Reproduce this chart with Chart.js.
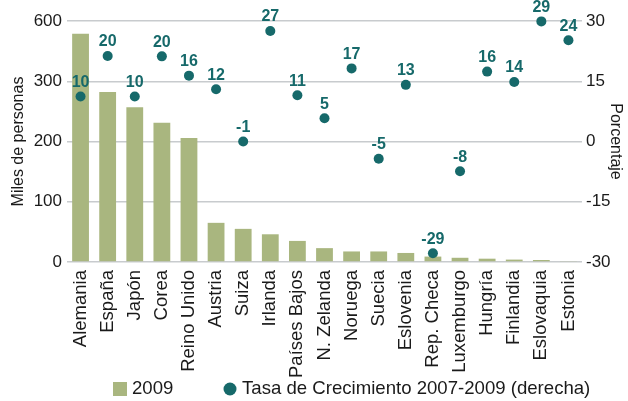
<!DOCTYPE html>
<html>
<head>
<meta charset="utf-8">
<script src="https://cdn.jsdelivr.net/npm/chart.js@4"></script>
<style>
    html, body { margin: 0; padding: 0; background: #fff; overflow: hidden; }
    #wrap { width: 628px; height: 401px; position: relative; }
</style>
</head>
<body>
<div id="wrap"><canvas id="chart"></canvas></div>
<script>
// --- Datos ---
const paises = ['Alemania', 'España', 'Japón', 'Corea', 'Reino Unido', 'Austria', 'Suiza', 'Irlanda',
    'Países Bajos', 'N. Zelanda', 'Noruega', 'Suecia', 'Eslovenia', 'Rep. Checa', 'Luxemburgo',
    'Hungría', 'Finlandia', 'Eslovaquia', 'Estonia'];
const miles2009 = [537, 282, 257, 231, 206, 65, 55, 46, 35, 23, 17.5, 17.5, 15, 9, 7, 5.5, 4, 3.3, 1];
const tasaCrecimiento = [11.2, 21.3, 11.2, 21.2, 16.4, 13, 0, 27.5, 11.5, 5.8, 18.2, -4.3, 14.1, -27.8, -7.4, 17.4, 14.8, 29.9, 25.2];
const etiquetasTasa = ['10', '20', '10', '20', '16', '12', '-1', '27', '11', '5', '17', '-5', '13', '-29', '-8', '16', '14', '29', '24'];
const ticksIzq = [0, 100, 200, 300, 600];

const VERDE = '#a9b67f';
const TEAL = '#16696a';
const TEXTO = '#1a1a1a';
const FUENTE = "'Liberation Sans', Arial, sans-serif";

// Escala izquierda quebrada: 0-300 lineal, luego 300-600 en un solo tramo
class EscalaQuebrada extends Chart.LinearScale {
    buildTicks() {
        return ticksIzq.map(v => ({ value: v }));
    }
    _tramo(v) {
        return v <= 300 ? v / 100 : 3 + (v - 300) / 300;
    }
    getPixelForValue(v) {
        if (v === null || v === undefined) return NaN;
        return this.getPixelForDecimal(this._tramo(v) / 4);
    }
    getValueForPixel(p) {
        const t = this.getDecimalForPixel(p) * 4;
        return t <= 3 ? t * 100 : 300 + (t - 3) * 300;
    }
}
EscalaQuebrada.id = 'quebrada';
EscalaQuebrada.defaults = {};
Chart.register(EscalaQuebrada);

// Etiquetas sobre los puntos
const etiquetasPlugin = {
    id: 'etiquetasTasa',
    afterDatasetsDraw(chart) {
        const meta = chart.getDatasetMeta(1);
        const ctx = chart.ctx;
        ctx.save();
        ctx.font = 'bold 16px ' + FUENTE;
        ctx.fillStyle = TEAL;
        ctx.textAlign = 'center';
        ctx.textBaseline = 'bottom';
        meta.data.forEach((pt, i) => {
            ctx.fillText(etiquetasTasa[i], pt.x, pt.y - 6);
        });
        ctx.restore();
    }
};

// Leyenda abajo (dibujada a mano para poder separar los elementos)
const leyendaPlugin = {
    id: 'leyendaAbajo',
    afterDraw(chart) {
        const ctx = chart.ctx;
        const y = 389;
        const items = [
            { x: 113, forma: 'rect', ds: chart.data.datasets[0] },
            { x: 223, forma: 'circle', ds: chart.data.datasets[1] }
        ];
        ctx.save();
        ctx.font = '18.6px ' + FUENTE;
        ctx.textBaseline = 'middle';
        ctx.textAlign = 'left';
        items.forEach(it => {
            ctx.fillStyle = it.ds.backgroundColor;
            if (it.forma === 'rect') {
                ctx.fillRect(it.x, y - 7, 14, 14);
            } else {
                ctx.beginPath();
                ctx.arc(it.x + 7, y, 6.5, 0, Math.PI * 2);
                ctx.fill();
            }
            ctx.fillStyle = TEXTO;
            ctx.fillText(it.ds.label, it.x + 19, y);
        });
        ctx.restore();
    }
};

Chart.defaults.font.family = FUENTE;
Chart.defaults.color = TEXTO;

const ctx = document.getElementById('chart').getContext('2d');
const chart = new Chart(ctx, {
    data: {
        labels: paises,
        datasets: [{
            type: 'bar',
            label: '2009',
            data: miles2009,
            backgroundColor: VERDE,
            borderWidth: 0,
            barPercentage: 0.62,
            categoryPercentage: 1,
            yAxisID: 'y',
            order: 1
        }, {
            type: 'line',
            label: 'Tasa de Crecimiento 2007-2009 (derecha)',
            data: tasaCrecimiento,
            showLine: false,
            pointRadius: 5,
            pointHoverRadius: 5,
            pointBackgroundColor: TEAL,
            pointBorderWidth: 0,
            borderColor: TEAL,
            backgroundColor: TEAL,
            yAxisID: 'y1',
            clip: false,
            order: 0
        }]
    },
    options: {
        responsive: true,
        maintainAspectRatio: false,
        animation: false,
        layout: { padding: { top: 21, bottom: 0, left: 0, right: 0 } },
        scales: {
            x: {
                grid: { display: false, drawTicks: false },
                border: { display: false },
                ticks: { font: { size: 18.5 }, maxRotation: 90, minRotation: 90, autoSkip: false, padding: 8 },
                afterFit: (s) => { s.height = 139; }
            },
            y: {
                type: 'quebrada',
                position: 'left',
                min: 0,
                max: 600,
                grid: { color: '#c8cbce', lineWidth: 1.5, drawTicks: false },
                border: { display: false },
                ticks: { font: { size: 17 }, padding: 5 },
                title: { display: true, text: 'Miles de personas', font: { size: 16 }, padding: { top: 9, bottom: 0 } },
                afterFit: (s) => { s.width = 67; }
            },
            y1: {
                type: 'linear',
                position: 'right',
                min: -30,
                max: 30,
                grid: { display: false, drawTicks: false },
                border: { display: false },
                ticks: { font: { size: 17 }, stepSize: 15, padding: 4 },
                title: { display: true, text: 'Porcentaje', font: { size: 16 }, padding: { top: 3, bottom: 0 } },
                afterFit: (s) => { s.width = 46; }
            }
        },
        plugins: {
            legend: { display: false },
            tooltip: { enabled: false }
        }
    },
    plugins: [etiquetasPlugin, leyendaPlugin]
});
</script>
</body>
</html>
